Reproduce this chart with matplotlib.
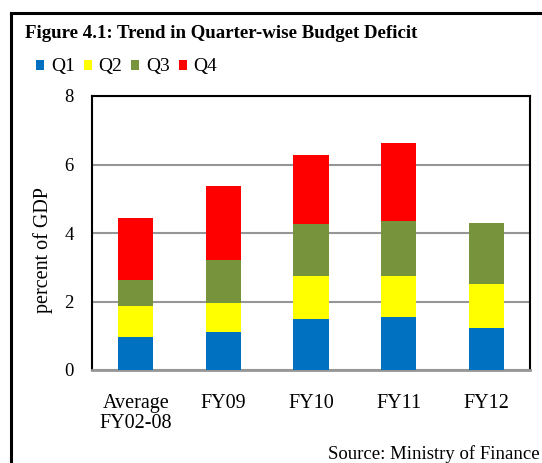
import matplotlib.pyplot as plt
from matplotlib.lines import Line2D
from matplotlib.patches import Patch
import numpy as np

plt.rcParams['font.family'] = ['Liberation Serif', 'DejaVu Serif']

categories = ['Average\nFY02-08', 'FY09', 'FY10', 'FY11', 'FY12']
q1 = [0.95, 1.10, 1.50, 1.55, 1.23]
q2 = [0.92, 0.87, 1.24, 1.19, 1.29]
q3 = [0.76, 1.23, 1.52, 1.61, 1.78]
q4 = [1.81, 2.17, 2.01, 2.28, 0.0]
series = ['Q1', 'Q2', 'Q3', 'Q4']
colors = ['#0070C0', '#FFFF00', '#77933C', '#FF0000']

fig = plt.figure(figsize=(5.42, 4.63), dpi=100)
ax = fig.add_axes([92/542, 93/463, 438/542, 274/463])

x = np.arange(len(categories))
bottom = np.zeros(len(categories))
for vals, c in zip([q1, q2, q3, q4], colors):
    ax.bar(x, vals, width=0.4, bottom=bottom, color=c, zorder=3)
    bottom += np.array(vals)

ax.set_xlim(-0.5, 4.5)
ax.set_ylim(0, 8)
ax.set_yticks([0, 2, 4, 6, 8])
ax.set_xticks(x)
ax.set_xticklabels(categories, fontsize=14.5, linespacing=1.12)
ax.tick_params(axis='y', labelsize=13.5, length=0, pad=13)
ax.tick_params(axis='x', length=0, pad=17)
ax.grid(axis='y', color='#969696', linewidth=1.5, zorder=0)
for s in ['left', 'top', 'right']:
    ax.spines[s].set_color('black')
    ax.spines[s].set_linewidth(1.5)
ax.spines['bottom'].set_color('#969696')
ax.spines['bottom'].set_linewidth(2)
ax.set_ylabel('percent of GDP', fontsize=14.5, va='center')
ax.yaxis.set_label_coords((43 - 92) / 438, (370 - 250) / 274)

# outer frame
fig.add_artist(Line2D([11/542, 11/542], [0, 450/463], color='black', linewidth=2.2))
fig.add_artist(Line2D([11/542, 1.0], [450/463, 450/463], color='black', linewidth=2.2))

fig.text(25/542, 1 - 34/463, 'Figure 4.1: Trend in Quarter-wise Budget Deficit',
         fontsize=13.6, fontweight='bold', va='center', ha='left')

handles = [Patch(facecolor=c, label=s) for s, c in zip(series, colors)]
fig.legend(handles=handles, loc='center left', bbox_to_anchor=(36/542, 1 - 67/463),
           ncol=4, frameon=False, fontsize=14, handlelength=0.42, handleheight=0.42,
           handletextpad=0.35, columnspacing=0.45, borderaxespad=0, borderpad=0)

fig.text(540/542, 1 - 454/463, 'Source: Ministry of Finance', fontsize=13.5,
         ha='right', va='center')

fig.savefig('out.png', dpi=100)
